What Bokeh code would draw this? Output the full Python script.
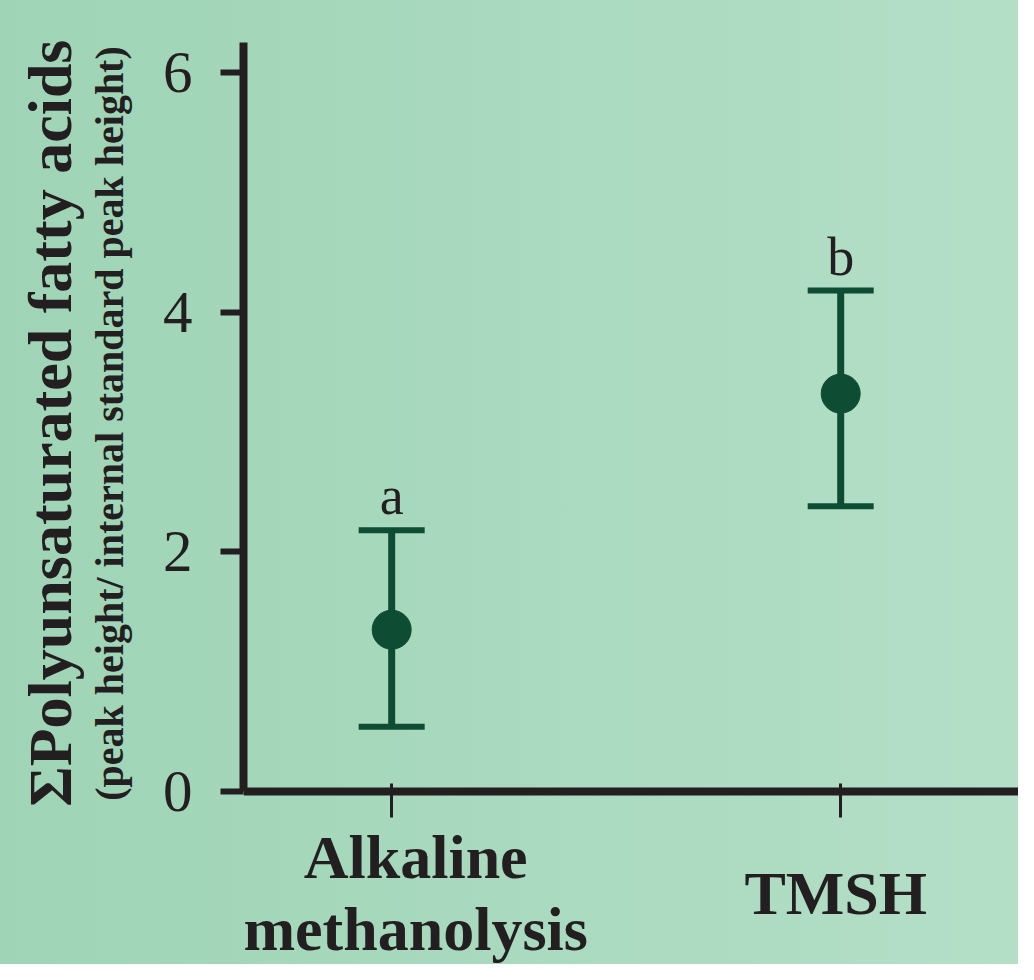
from bokeh.plotting import figure
from bokeh.models import ColumnDataSource, Whisker, TeeHead, FixedTicker, Title, Label
from bokeh.core.properties import value
from bokeh.embed import file_html
from bokeh.resources import INLINE

groups = ["Alkaline\nmethanolysis", "TMSH"]
positions = [1, 2]
means = [1.35, 3.32]
lower = [0.54, 2.38]
upper = [2.18, 4.18]
letters = ["a", "b"]
y_ticks = [0, 2, 4, 6]
y_title = "\u03a3Polyunsaturated fatty acids"
y_subtitle = "(peak height/ internal standard peak height)"

INK = "#231f20"
GREEN = "#0e4d33"
SERIF = "Liberation Serif"

# layout/style constants
Y_TOP = 6.25
Y_BOTTOM = -1.444
LABEL_Y = -0.845
LABEL_DX = [24, -5]
SUB_PAD = "\u00a0" * 16   # lifts the centred axis label towards the top of the axis

src = ColumnDataSource(dict(x=positions, mean=means, lower=lower, upper=upper, letter=letters))

p = figure(width=1018, height=964, output_backend="svg", toolbar_location=None,
           x_range=(0.670, 2.396), y_range=(Y_BOTTOM, Y_TOP), x_axis_location="above",
           min_border_left=243, min_border_top=42, min_border_bottom=0, min_border_right=0)

p.title.visible = False
p.background_fill_color = None
p.border_fill_color = None
p.styles = {"background-image": "linear-gradient(to right, #9fd4b6, #b3dfc7)"}
p.outline_line_color = None
p.xgrid.visible = False
p.ygrid.visible = False

ya = p.yaxis[0]
ya.ticker = FixedTicker(ticks=y_ticks)
ya.bounds = (0, Y_TOP)
ya.axis_line_width = 8
ya.axis_line_color = INK
ya.major_tick_line_width = 6
ya.major_tick_line_color = INK
ya.major_tick_out = 23
ya.major_tick_in = 0
ya.minor_tick_out = 0
ya.minor_tick_in = 0
ya.major_label_text_font = SERIF
ya.major_label_text_font_size = "59px"
ya.major_label_text_color = INK
ya.major_label_standoff = 28
ya.axis_label = SUB_PAD + y_subtitle
ya.axis_label_text_font = SERIF
ya.axis_label_text_font_size = "40px"
ya.axis_label_text_font_style = "bold"
ya.axis_label_text_color = INK
ya.axis_label_standoff = 28

xa = p.xaxis[0]
xa.fixed_location = 0
xa.ticker = FixedTicker(ticks=positions)
xa.axis_line_width = 8
xa.axis_line_color = INK
xa.major_tick_line_width = 3
xa.major_tick_line_color = INK
xa.major_tick_out = 8
xa.major_tick_in = 26
xa.minor_tick_out = 0
xa.minor_tick_in = 0
xa.major_label_text_font_size = "10px"
xa.major_label_text_color = None
xa.major_label_standoff = 0

for pos, name, dx in zip(positions, groups, LABEL_DX):
    p.add_layout(Label(x=pos, y=LABEL_Y, x_offset=dx, text=name,
                       text_align="center", text_baseline="middle",
                       text_font=SERIF, text_font_size="62px", text_font_style="bold",
                       text_color=INK, text_line_height=1.06))

main = Title(text=y_title, text_font=SERIF, text_font_size="62px",
             text_font_style="bold", text_color=INK, align="right", offset=-3, standoff=0)
p.add_layout(main, "left")

w = Whisker(source=src, base="x", upper="upper", lower="lower",
            line_color=GREEN, line_width=7,
            upper_head=TeeHead(size=66, line_color=GREEN, line_width=6),
            lower_head=TeeHead(size=66, line_color=GREEN, line_width=6))
p.add_layout(w)

p.scatter("x", "mean", source=src, size=39, color=GREEN)
p.text("x", "upper", text="letter", source=src, y_offset=-34,
       text_align="center", text_baseline="alphabetic",
       text_font=value(SERIF), text_font_size="54px", text_color=INK)

open("out.html", "w").write(file_html(p, INLINE))
